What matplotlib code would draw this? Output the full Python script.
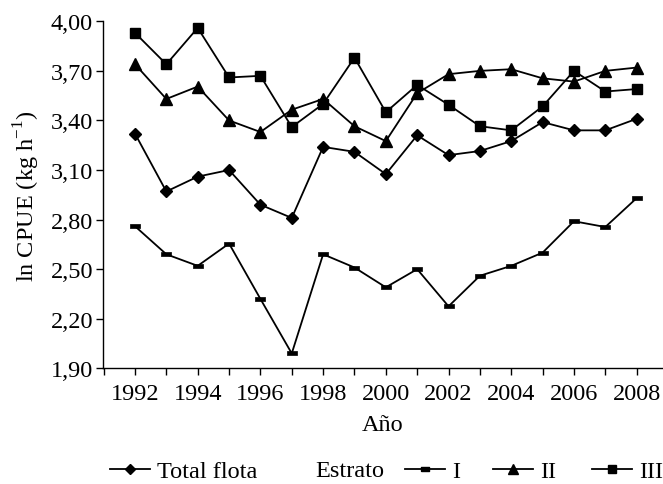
import matplotlib
matplotlib.use("Agg")
import matplotlib.pyplot as plt
from matplotlib.lines import Line2D
from matplotlib.ticker import MultipleLocator, FuncFormatter

plt.rcParams['font.family'] = ['Liberation Serif', 'DejaVu Serif']

years = list(range(1992, 2009))
total_flota = [3.32, 2.97, 3.06, 3.10, 2.89, 2.81, 3.24, 3.21, 3.075, 3.31, 3.19, 3.215, 3.275, 3.39, 3.34, 3.34, 3.41]
estrato_I = [2.76, 2.59, 2.52, 2.655, 2.32, 1.99, 2.59, 2.51, 2.39, 2.50, 2.275, 2.46, 2.52, 2.60, 2.79, 2.755, 2.93]
estrato_II = [3.74, 3.53, 3.605, 3.40, 3.33, 3.465, 3.53, 3.365, 3.275, 3.565, 3.68, 3.70, 3.71, 3.655, 3.635, 3.70, 3.72]
estrato_III = [3.93, 3.74, 3.96, 3.66, 3.67, 3.36, 3.50, 3.78, 3.45, 3.615, 3.495, 3.365, 3.34, 3.485, 3.70, 3.575, 3.59]

yticks = [1.90, 2.20, 2.50, 2.80, 3.10, 3.40, 3.70, 4.00]

fs = 17.5
W, H = 663, 485
fig = plt.figure(figsize=(W / 100, H / 100), dpi=100)
ax = fig.add_axes([102.7 / W, 1 - 369.3 / H, (663 - 102.7) / W, (369.3 - 22.3) / H])

bar_marker = [(-1, -0.4), (1, -0.4), (1, 0.4), (-1, 0.4), (-1, -0.4)]
lw = 1.3
l_tot, = ax.plot(years, total_flota, color='black', lw=lw, marker='D', ms=6.5, mfc='black', mec='black')
l_I, = ax.plot(years, estrato_I, color='black', lw=lw, marker=bar_marker, ms=7, mfc='black', mec='black', mew=0.5)
l_II, = ax.plot(years, estrato_II, color='black', lw=lw, marker='^', ms=8.5, mfc='black', mec='black')
l_III, = ax.plot(years, estrato_III, color='black', lw=lw, marker='s', ms=7.5, mfc='black', mec='black')

ax.set_xlim(1990.97, 2008.84)
ax.set_ylim(1.90, 4.00)
ax.set_yticks(yticks)
ax.yaxis.set_major_formatter(FuncFormatter(lambda v, p: f"{v:.2f}".replace('.', ',')))
ax.xaxis.set_major_locator(MultipleLocator(2))
ax.xaxis.set_minor_locator(MultipleLocator(1))
ax.set_xticks(years[::2])

for s in ['top', 'right']:
    ax.spines[s].set_visible(False)
for s in ['left', 'bottom']:
    ax.spines[s].set_linewidth(1.0)
ax.tick_params(axis='both', which='both', direction='out', length=5, width=1.0, labelsize=fs, colors='black')
ax.tick_params(axis='x', which='both', pad=5.5)
ax.tick_params(axis='y', pad=2)

ax.set_xlabel('Año', fontsize=fs, labelpad=7.5)
ax.set_ylabel('ln CPUE (kg h$^{\\mathregular{-1}}$)', fontsize=fs, labelpad=6)

ly = 1 - 472 / H

def leg(handle, label, xpx):
    fig.legend([handle], [label], loc='center left', bbox_to_anchor=(xpx / W, ly),
               frameon=False, fontsize=fs, handlelength=1.65, handletextpad=0.3,
               borderpad=0, borderaxespad=0, numpoints=1)

def hproxy(line):
    return Line2D([], [], color='black', lw=lw, marker=line.get_marker(),
                  ms=line.get_markersize() * 0.85, mfc='black', mec='black')

leg(hproxy(l_tot), 'Total flota', 110)
fig.text(315 / W, ly, 'Estrato', fontsize=fs, ha='left', va='center')
leg(hproxy(l_I), 'I', 405)
leg(hproxy(l_II), 'II', 493)
leg(hproxy(l_III), 'III', 592)

fig.savefig('out.png', dpi=100)
